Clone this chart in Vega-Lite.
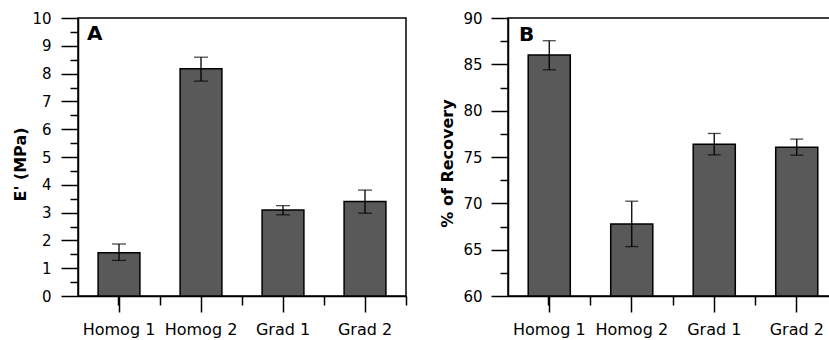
{
  "$schema": "https://vega.github.io/schema/vega-lite/v6.json",
  "padding": {"left": 12, "top": 10, "right": 0, "bottom": 0},
  "spacing": 31,
  "config": {
    "view": {"stroke": "black", "strokeWidth": 1.5},
    "axis": {"domainColor": "black", "tickColor": "black", "domainWidth": 1.5, "tickWidth": 1.5, "labelColor": "black", "titleColor": "black", "labelFont": "DejaVu Sans", "titleFont": "DejaVu Sans", "grid": false}
  },
  "hconcat": [
    {
      "width": 328, "height": 278,
      "title": {"text": "A", "anchor": "start", "frame": "group", "font": "DejaVu Sans", "fontSize": 20, "fontWeight": "bold", "color": "black", "dx": 9, "offset": -33},
      "data": {"values": [
        {"g": "Homog 1", "v": 1.56, "lo": 1.28, "hi": 1.87},
        {"g": "Homog 2", "v": 8.17, "lo": 7.73, "hi": 8.59},
        {"g": "Grad 1", "v": 3.09, "lo": 2.92, "hi": 3.25},
        {"g": "Grad 2", "v": 3.40, "lo": 2.98, "hi": 3.81}
      ]},
      "layer": [
        {"mark": {"type": "bar", "fill": "#595959", "stroke": "black", "strokeWidth": 1.5},
         "encoding": {
           "x": {"field": "g", "type": "nominal", "sort": null, "scale": {"paddingInner": 0.49, "paddingOuter": 0.245},
                 "axis": {"orient": "bottom", "title": null, "labelAngle": 0, "tickSize": 16, "labelPadding": 9, "labelFontSize": 16}},
           "y": {"field": "v", "type": "quantitative", "scale": {"domain": [0, 10], "nice": false, "zero": false},
                 "axis": {"orient": "left", "values": [0,1,2,3,4,5,6,7,8,9,10], "tickSize": 17, "labelPadding": 10, "labelFontSize": 15, "title": "E' (MPa)", "titleFontSize": 16, "titleFontWeight": "bold", "titlePadding": 3, "titleY": 146}},
           "y2": {"datum": 0}
         }},
        {"mark": {"type": "rule", "color": "black", "strokeWidth": 1.3},
         "encoding": {
           "x": {"field": "g", "type": "nominal", "sort": null,
                 "axis": {"orient": "bottom", "bandPosition": 1, "tickOffset": 20.09, "tickExtra": true, "labels": false, "domain": false, "title": null, "tickSize": 9}},
           "y": {"field": "lo", "type": "quantitative", "scale": {"domain": [0, 10], "nice": false, "zero": false},
                 "axis": {"orient": "left", "values": [0.5,1.5,2.5,3.5,4.5,5.5,6.5,7.5,8.5,9.5], "tickSize": 8, "labels": false, "domain": false, "title": null}},
           "y2": {"field": "hi"}
         }},
        {"mark": {"type": "tick", "color": "black", "size": 14, "thickness": 1.3},
         "encoding": {
           "x": {"field": "g", "type": "nominal", "sort": null, "axis": null},
           "y": {"field": "lo", "type": "quantitative", "scale": {"domain": [0, 10], "nice": false, "zero": false}, "axis": null}
         }},
        {"mark": {"type": "tick", "color": "black", "size": 14, "thickness": 1.3},
         "encoding": {
           "x": {"field": "g", "type": "nominal", "sort": null, "axis": null},
           "y": {"field": "hi", "type": "quantitative", "scale": {"domain": [0, 10], "nice": false, "zero": false}, "axis": null}
         }}
      ],
      "resolve": {"axis": {"x": "independent", "y": "independent"}}
    },
    {
      "width": 330, "height": 278,
      "title": {"text": "B", "anchor": "start", "frame": "group", "font": "DejaVu Sans", "fontSize": 20, "fontWeight": "bold", "color": "black", "dx": 11, "offset": -34},
      "data": {"values": [
        {"g": "Homog 1", "v": 86.0, "lo": 84.41, "hi": 87.55},
        {"g": "Homog 2", "v": 67.78, "lo": 65.33, "hi": 70.23},
        {"g": "Grad 1", "v": 76.38, "lo": 75.23, "hi": 77.54},
        {"g": "Grad 2", "v": 76.06, "lo": 75.2, "hi": 76.93}
      ]},
      "layer": [
        {"mark": {"type": "bar", "fill": "#595959", "stroke": "black", "strokeWidth": 1.5},
         "encoding": {
           "x": {"field": "g", "type": "nominal", "sort": null, "scale": {"paddingInner": 0.49, "paddingOuter": 0.245},
                 "axis": {"orient": "bottom", "title": null, "labelAngle": 0, "tickSize": 16, "labelPadding": 9, "labelFontSize": 16}},
           "y": {"field": "v", "type": "quantitative", "scale": {"domain": [60, 90], "nice": false, "zero": false},
                 "axis": {"orient": "left", "values": [60,65,70,75,80,85,90], "tickSize": 17, "labelPadding": 9, "labelFontSize": 15, "title": "% of Recovery", "titleFontSize": 16, "titleFontWeight": "bold", "titlePadding": 7, "titleY": 145}},
           "y2": {"datum": 60}
         }},
        {"mark": {"type": "rule", "color": "black", "strokeWidth": 1.3},
         "encoding": {
           "x": {"field": "g", "type": "nominal", "sort": null,
                 "axis": {"orient": "bottom", "bandPosition": 1, "tickOffset": 20.2, "tickExtra": true, "labels": false, "domain": false, "title": null, "tickSize": 9}},
           "y": {"field": "lo", "type": "quantitative", "scale": {"domain": [60, 90], "nice": false, "zero": false},
                 "axis": {"orient": "left", "values": [62.5,67.5,72.5,77.5,82.5,87.5], "tickSize": 8, "labels": false, "domain": false, "title": null}},
           "y2": {"field": "hi"}
         }},
        {"mark": {"type": "tick", "color": "black", "size": 13, "thickness": 1.3},
         "encoding": {
           "x": {"field": "g", "type": "nominal", "sort": null, "axis": null},
           "y": {"field": "lo", "type": "quantitative", "scale": {"domain": [60, 90], "nice": false, "zero": false}, "axis": null}
         }},
        {"mark": {"type": "tick", "color": "black", "size": 13, "thickness": 1.3},
         "encoding": {
           "x": {"field": "g", "type": "nominal", "sort": null, "axis": null},
           "y": {"field": "hi", "type": "quantitative", "scale": {"domain": [60, 90], "nice": false, "zero": false}, "axis": null}
         }}
      ],
      "resolve": {"axis": {"x": "independent", "y": "independent"}}
    }
  ]
}
